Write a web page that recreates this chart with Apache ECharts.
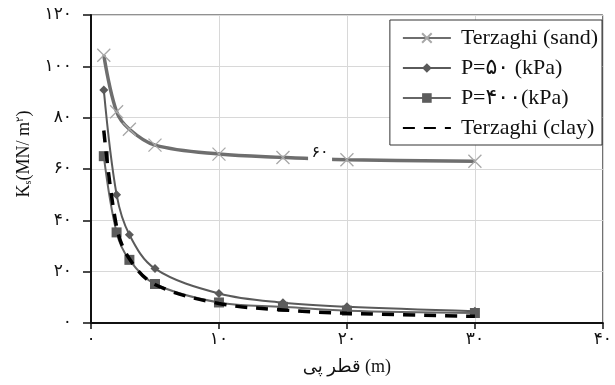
<!DOCTYPE html>
<html><head><meta charset="utf-8">
<script src="https://cdn.jsdelivr.net/npm/echarts@6/dist/echarts.min.js"></script>
<style>html,body{margin:0;padding:0;background:#fff}#c{width:615px;height:385px}</style>
</head><body><div id="c"></div>
<script>
var xDiam = [1, 2, 3, 5, 10, 15, 20, 30];
var sand = [104.3, 82.3, 75.5, 69.3, 65.8, 64.5, 63.6, 63.0];
var p50 = [90.8, 50.0, 34.4, 21.2, 11.5, 7.9, 6.3, 4.6];
var p400 = [65.0, 35.3, 24.6, 15.2, 8.0, 6.3, 4.8, 3.9];
var clay = [75.0, 37.5, 25.0, 15.0, 7.6, 5.1, 3.8, 2.6];
var yTicks = {0:'۰',20:'۲۰',40:'۴۰',60:'۶۰',80:'۸۰',100:'۱۰۰',120:'۱۲۰'};
var xTicks = {0:'۰',10:'۱۰',20:'۲۰',30:'۳۰',40:'۴۰'};
var names = ['Terzaghi (sand)', 'P=۵۰ (kPa)', 'P=۴۰۰(kPa)', 'Terzaghi (clay)'];
var lineLabel = '۶۰';

function pairs(v){ return xDiam.map(function(x,i){return [x, v[i]];}); }
var FONT = '"Liberation Serif", "DejaVu Serif", "DejaVu Sans", serif';
var chart = echarts.init(document.getElementById('c'), null, {renderer:'canvas'});
chart.setOption({
  animation:false,
  backgroundColor:'#fff',
  grid:{left:91, right:12, top:15, bottom:62, show:true, borderColor:'#222', borderWidth:1},
  legend:{
    right:13, top:20, orient:'vertical', itemGap:8, itemWidth:48, itemHeight:12,
    backgroundColor:'#fff', borderColor:'#333', borderWidth:1, padding:[7,4,6,12],
    textStyle:{fontFamily:FONT, fontSize:22, lineHeight:20, color:'#111', padding:[0,0,0,5]},
    data:[{name:names[0]},{name:names[1]},{name:names[2]},{name:names[3], itemStyle:{opacity:0}}]
  },
  xAxis:{
    type:'value', min:0, max:40, interval:10,
    name:'قطر پی (m)', nameLocation:'middle', nameGap:35,
    nameTextStyle:{fontFamily:FONT, fontSize:18, color:'#111'},
    axisLine:{show:true, onZero:false, lineStyle:{color:'#111', width:2}},
    axisTick:{show:true, length:6, lineStyle:{color:'#111', width:1.5}},
    axisLabel:{fontFamily:FONT, fontSize:17, color:'#111', margin:8, formatter:function(v){return xTicks[v]!==undefined?xTicks[v]:'';}},
    splitLine:{show:true, lineStyle:{color:'#d8d8d8', width:1}}
  },
  yAxis:{
    type:'value', min:0, max:120, interval:20,
    name:'{k|K}{s|s}{k|(MN/ m}{p|۲}{k|)}', nameLocation:'middle', nameGap:58, nameRotate:90,
    nameTextStyle:{fontFamily:FONT, fontSize:18, color:'#111', padding:[0,0,0,30],
      rich:{k:{fontFamily:FONT, fontSize:18, color:'#111'}, s:{fontFamily:FONT, fontSize:10, color:'#111', verticalAlign:'bottom', padding:[8,0,0,0]}, p:{fontFamily:FONT, fontSize:10, color:'#111', verticalAlign:'top', padding:[0,0,8,0]}}},
    axisLine:{show:true, onZero:false, lineStyle:{color:'#111', width:2}},
    axisTick:{show:true, length:8, lineStyle:{color:'#111', width:1.5}},
    axisLabel:{fontFamily:FONT, fontSize:17, color:'#111', margin:19, formatter:function(v){return yTicks[v]!==undefined?yTicks[v]:'';}},
    splitLine:{show:true, lineStyle:{color:'#d8d8d8', width:1}}
  },
  series:[
    {name:names[0], type:'line', data:pairs(sand), smooth:0.35,
      symbol:'path://M0,0L10,10M10,0L0,10', symbolSize:13,
      lineStyle:{color:'#6e6e6e', width:3.5},
      itemStyle:{color:'#a8a8a8', borderColor:'#a8a8a8', borderWidth:1.3},
      markPoint:{symbol:'rect', symbolSize:[24,10], silent:true,
        itemStyle:{color:'#fff', borderWidth:0},
        label:{show:true, formatter:lineLabel, color:'#111', fontFamily:FONT, fontSize:16, offset:[0,-6]},
        data:[{coord:[17.9, 64.1]}]},
      z:3},
    {name:names[1], type:'line', data:pairs(p50), smooth:0.35,
      symbol:'diamond', symbolSize:9,
      lineStyle:{color:'#5a5a5a', width:2},
      itemStyle:{color:'#5a5a5a'}, z:4},
    {name:names[2], type:'line', data:pairs(p400), smooth:0.35,
      symbol:'rect', symbolSize:10,
      lineStyle:{color:'#666', width:2},
      itemStyle:{color:'#5c5c5c'}, z:4},
    {name:names[3], type:'line', data:pairs(clay), smooth:0.35,
      symbol:'none', showSymbol:false,
      lineStyle:{color:'#000', width:3.5, type:[12,9]},
      itemStyle:{color:'#000'}, z:5}
  ]
});
</script></body></html>
